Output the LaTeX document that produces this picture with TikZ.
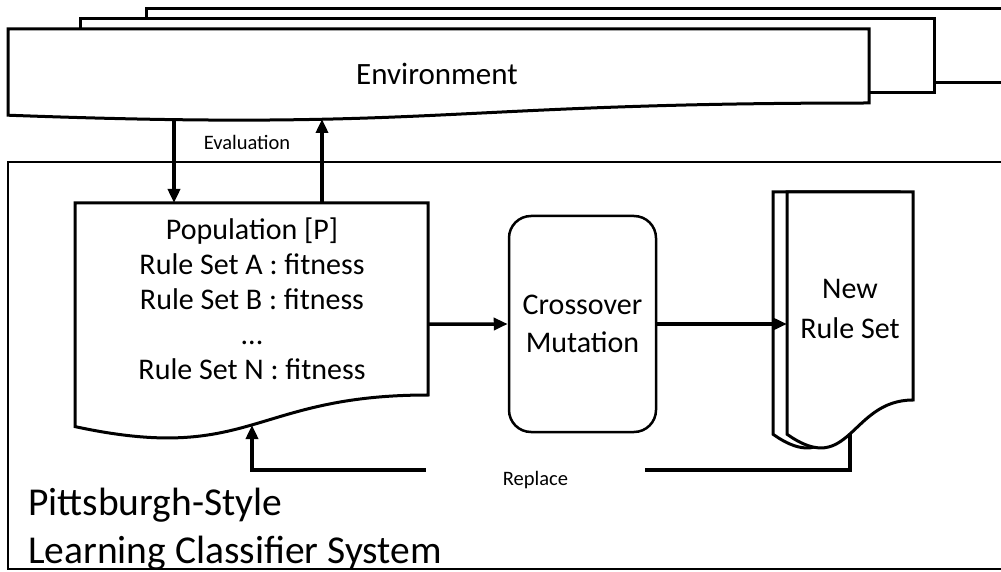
\documentclass[tikz,border=0pt]{standalone}
\usepackage{fontspec}
\setmainfont{Carlito}
\usetikzlibrary{arrows.meta}
\begin{document}
\begin{tikzpicture}[x=1pt,y=-1pt,
  outline/.style={draw=black,line width=3pt,fill=white,line join=miter},
  flow/.style={line width=3.5pt,-{Triangle[length=14pt,width=12pt]}},
  bigtxt/.style={font=\fontsize{30}{35}\selectfont,align=center,inner sep=0pt},
  smalltxt/.style={font=\fontsize{20.5}{24}\selectfont,inner sep=0pt},
  titletxt/.style={font=\fontsize{39.5}{48}\selectfont,inner sep=0pt,anchor=base west},
  area/.style={inner sep=0pt,anchor=north west}]
\useasboundingbox (0,0) rectangle (1001,572);
\clip (0,0) rectangle (1001,572);

% environment: three stacked sheets
\draw[outline] (146,9) rectangle (1010,83);
\draw[outline] (80,19) rectangle (934,93);
\draw[outline] (8,29) -- (869,29) -- (869,103)
  .. controls (438.5,103) and (438.5,131.2) .. (8,115.2) -- cycle;
\node[bigtxt,font=\fontsize{31}{35}\selectfont] (env) at (437,74) {Environment};
\coordinate (evdown) at (174,120);
\coordinate (evup) at (322,119);

% system frame
\draw[line width=2pt] (8,162) rectangle (1010,569);

% population document
\node[area,minimum width=353pt,minimum height=242pt] (pop) at (75,203) {};
\draw[outline] (75,203) -- (428,203) -- (428,395)
  .. controls (251.5,395) and (251.5,464.6) .. (75,426.6) -- cycle;
\node[bigtxt] (poptext) at (252,299)
  {Population [P]\\Rule Set A : fitness\\Rule Set B : fitness\\...\\Rule Set N : fitness};
\coordinate (popfoot) at (252,425);

% genetic operators
\node[draw,line width=2.5pt,rounded corners=22pt,minimum width=147pt,minimum height=216pt,
  font=\fontsize{30}{38}\selectfont,align=center] (cross) at (582.5,324) {Crossover\\Mutation};

% new rule set (two stacked documents)
\draw[outline] (773,192) -- (899,192) -- (899,400)
  .. controls (836,400) and (836,479) .. (773,434.2) -- cycle;
\node[area,minimum width=126pt,minimum height=264pt] (newrs) at (787,192) {};
\draw[outline] (787,192) -- (913,192) -- (913,400)
  .. controls (850,400) and (850,479) .. (787,434.2) -- cycle;
\node[bigtxt,font=\fontsize{30}{40}\selectfont] (newrstext) at (850,309) {New\\Rule Set};
\coordinate (rsfoot) at (850,434);

% connectors
\draw[flow] (evdown) -- (evdown |- pop.north);
\draw[flow] (evup |- pop.north) -- (evup);
\node[smalltxt] (evallabel) at (247,142) {Evaluation};
\draw[flow] (pop.east) -- (cross.west);
\draw[flow] (cross.east) -- (cross.east -| newrs.west);
\draw[flow] (rsfoot) -- ++(0,36) -| (popfoot);
\node[smalltxt,fill=white,minimum width=219pt,minimum height=30pt] (replacelabel) at (535.5,480) {Replace};

% system title
\node[titletxt] (title1) at (28,515) {Pittsburgh-Style};
\node[titletxt] (title2) at (28,563) {Learning Classifier System};
\end{tikzpicture}
\end{document}
